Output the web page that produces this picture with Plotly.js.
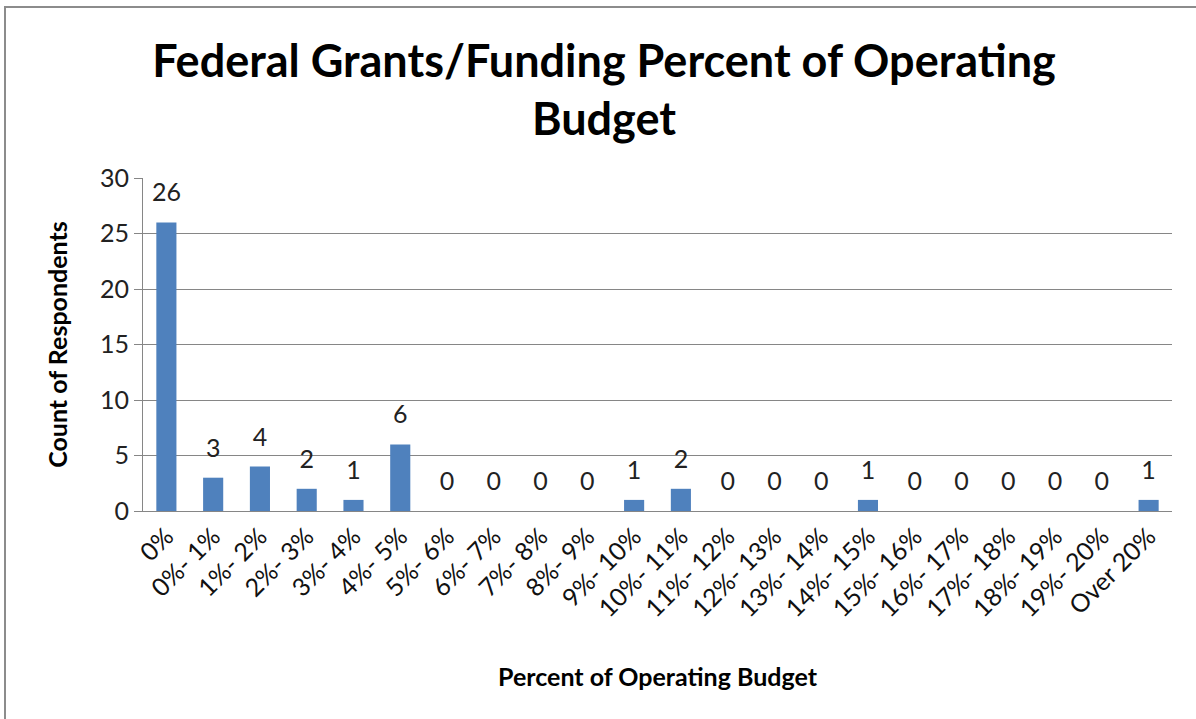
<!DOCTYPE html>
<html>
<head>
<meta charset="utf-8">
<script src="https://cdn.plot.ly/plotly-3.0.1.min.js"></script>
<style>
  html, body { margin: 0; padding: 0; background: #fff; }
  #chart { width: 1196px; height: 719px; }
  .frameTop { position: absolute; left: 4px; top: 6px; width: 1192px; height: 2px; background: #8c8c8c; }
  .frameLeft { position: absolute; left: 4px; top: 6px; width: 2px; height: 713px; background: #8c8c8c; }
</style>
</head>
<body>
<div id="chart"></div>
<div class="frameTop"></div>
<div class="frameLeft"></div>
<script>
const categories = ["0%", "0%- 1%", "1%- 2%", "2%- 3%", "3%- 4%", "4%- 5%", "5%- 6%", "6%- 7%", "7%- 8%", "8%- 9%", "9%- 10%", "10%- 11%", "11%- 12%", "12%- 13%", "13%- 14%", "14%- 15%", "15%- 16%", "16%- 17%", "17%- 18%", "18%- 19%", "19%- 20%", "Over 20%"];
const counts = [26, 3, 4, 2, 1, 6, 0, 0, 0, 0, 1, 2, 0, 0, 0, 1, 0, 0, 0, 0, 0, 1];
const yTicks = [0, 5, 10, 15, 20, 25, 30];

const FONT = "Lato, 'Open Sans', sans-serif";

const bars = {
  type: 'bar',
  x: categories,
  y: counts,
  marker: { color: '#4F81BD' },
  hoverinfo: 'x+y'
};

const labels = {
  type: 'scatter',
  mode: 'markers+text',
  x: categories,
  y: counts,
  text: counts.map(String),
  textposition: 'top center',
  cliponaxis: false,
  marker: { size: 22, opacity: 0 },
  textfont: { family: FONT, size: 25, color: '#222' },
  hoverinfo: 'skip'
};

const layout = {
  width: 1196,
  height: 719,
  margin: { l: 143, r: 24, t: 178, b: 208 },
  paper_bgcolor: '#fff',
  plot_bgcolor: '#fff',
  showlegend: false,
  bargap: 0.57,
  title: {
    text: '<b>Federal Grants/Funding Percent of Operating<br>Budget</b>',
    font: { family: FONT, size: 45, color: '#000' },
    x: 0.505, xanchor: 'center',
    y: 0.893, yanchor: 'middle',
    xref: 'container', yref: 'container'
  },
  xaxis: {
    type: 'category',
    range: [-0.5, categories.length - 0.5],
    autorange: false,
    tickangle: -45,
    tickfont: { family: FONT, size: 25, color: '#111' },
    showgrid: false,
    showline: true,
    linecolor: '#868686',
    linewidth: 1,
    ticks: '',
    zeroline: false,
    automargin: false,
    title: {
      text: '<b>Percent of Operating Budget</b>',
      font: { family: FONT, size: 25, color: '#000' },
      standoff: 47
    }
  },
  yaxis: {
    range: [0, 30],
    autorange: false,
    tickvals: yTicks,
    ticktext: yTicks.map(String),
    tickfont: { family: FONT, size: 25, color: '#222' },
    showgrid: true,
    gridcolor: '#868686',
    gridwidth: 1,
    showline: true,
    linecolor: '#868686',
    linewidth: 1,
    ticks: 'outside',
    ticklen: 8,
    tickcolor: '#868686',
    zeroline: false,
    automargin: false,
    title: {
      text: '<b>Count of Respondents</b>',
      font: { family: FONT, size: 25, color: '#000' },
      standoff: 25
    }
  }
};

Plotly.newPlot('chart', [bars, labels], layout, { staticPlot: true, displayModeBar: false });
</script>
</body>
</html>
